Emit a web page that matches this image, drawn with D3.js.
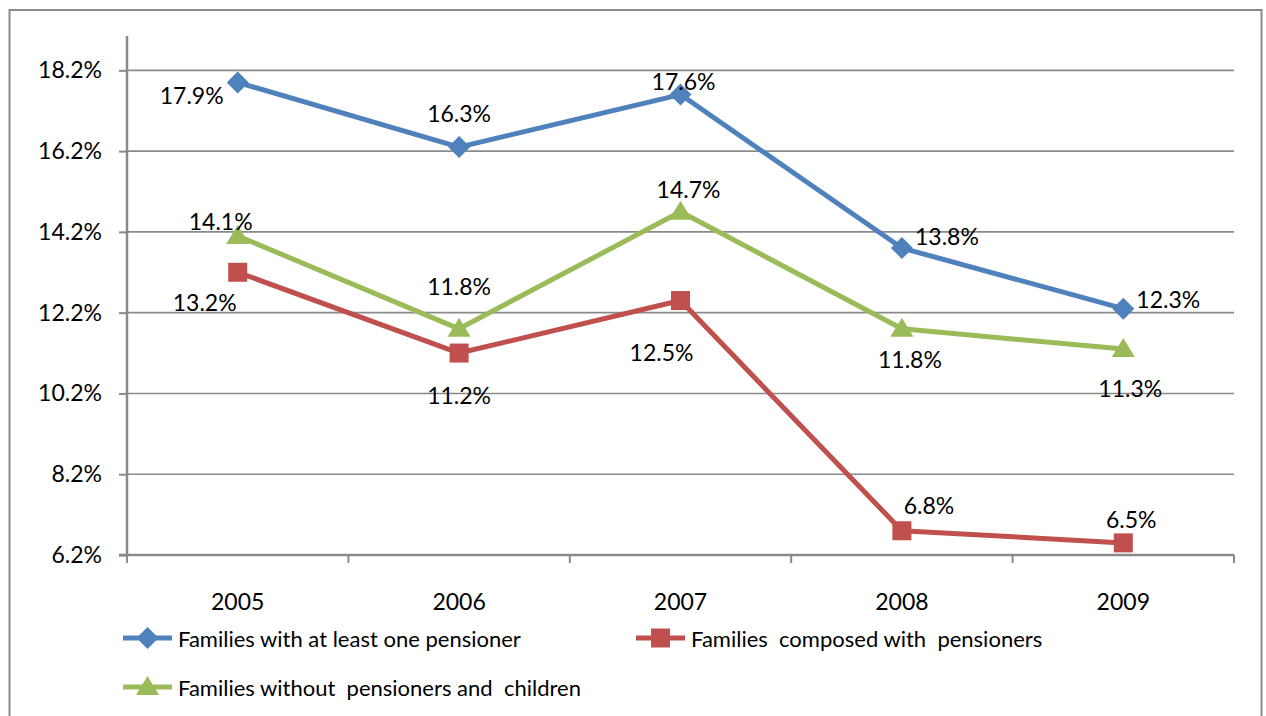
<!DOCTYPE html>
<html>
<head>
<meta charset="utf-8">
<script src="https://cdn.jsdelivr.net/npm/d3@7"></script>
<style>
  html, body { margin: 0; padding: 0; background: #ffffff; }
  svg { display: block; }
  text { font-family: Lato, "Open Sans", sans-serif; fill: #000; }
</style>
</head>
<body>
<svg id="chart" width="1266" height="716"></svg>
<script>
// Years on the category axis
const years = ["2005", "2006", "2007", "2008", "2009"];

// Share of families (%) for each group
const atLeastOnePensioner = [17.9, 16.3, 17.6, 13.8, 12.3];
const composedWithPensioners = [13.2, 11.2, 12.5, 6.8, 6.5];
const withoutPensionersChildren = [14.1, 11.8, 14.7, 11.8, 11.3];

// Value axis ticks
const yTicks = [6.2, 8.2, 10.2, 12.2, 14.2, 16.2, 18.2];

// Series names as shown in the legend
const seriesNames = [
  "Families with at least one pensioner",
  "Families  composed with  pensioners",
  "Families without  pensioners and  children"
];

// Data-label nudges (dx, dy) relative to each point
const labelNudgeBlue  = [[-46, 13], [0, -34], [3, -14], [45, -12], [45, -10]];
const labelNudgeRed   = [[-33, 30], [0, 42], [-19, 51], [27, -26], [8, -24]];
const labelNudgeGreen = [[-17, -15], [0, -43], [8, -23], [8, 30], [7, 39]];

const series = [
  { name: seriesNames[0], values: atLeastOnePensioner, color: "#4F81BD", marker: "diamond", nudge: labelNudgeBlue },
  { name: seriesNames[1], values: composedWithPensioners, color: "#C0504D", marker: "square", nudge: labelNudgeRed },
  { name: seriesNames[2], values: withoutPensionersChildren, color: "#9BBB59", marker: "triangle", nudge: labelNudgeGreen }
];

const svg = d3.select("#chart");
const gridColor = "#8a8a8a";
const fontSize = 23;
const legendFontSize = 22;

// Outer chart frame
svg.append("rect")
  .attr("x", 9.5).attr("y", 10)
  .attr("width", 1252).attr("height", 720)
  .attr("fill", "none")
  .attr("stroke", gridColor)
  .attr("stroke-width", 2);

const plot = { left: 127, right: 1234, top: 36, bottom: 555 };

const x = d3.scaleBand()
  .domain(years)
  .range([plot.left, plot.right])
  .padding(0);

const y = d3.scaleLinear()
  .domain([6.2, 19.05])
  .range([plot.bottom, plot.top]);

// Horizontal gridlines
svg.append("g")
  .selectAll("line")
  .data(yTicks.slice(1))
  .join("line")
  .attr("x1", plot.left).attr("x2", plot.right)
  .attr("y1", d => y(d)).attr("y2", d => y(d))
  .attr("stroke", gridColor)
  .attr("stroke-width", 1.6);

// Y axis
const yAxis = svg.append("g")
  .attr("transform", `translate(${plot.left},0)`)
  .call(d3.axisLeft(y)
    .tickValues(yTicks)
    .tickSize(8)
    .tickPadding(17)
    .tickFormat(d => d3.format(".1f")(d) + "%"));
yAxis.select(".domain")
  .attr("d", `M0,${plot.top}V${plot.bottom}`)
  .attr("stroke", gridColor).attr("stroke-width", 2.5);
yAxis.selectAll(".tick line").attr("stroke", gridColor).attr("stroke-width", 2);
yAxis.selectAll(".tick text")
  .attr("font-size", fontSize)
  .attr("font-family", "Lato, 'Open Sans', sans-serif")
  .attr("fill", "#000");

// X axis: ticks sit on category boundaries
const boundaries = years.map(d => x(d)).concat([x(years[years.length - 1]) + x.bandwidth()]);
const xAxis = svg.append("g")
  .attr("transform", `translate(0,${plot.bottom})`);
xAxis.append("line")
  .attr("x1", plot.left - 8).attr("x2", plot.right)
  .attr("stroke", gridColor).attr("stroke-width", 2.5);
xAxis.selectAll("line.tick")
  .data(boundaries)
  .join("line")
  .attr("class", "tick")
  .attr("x1", d => d).attr("x2", d => d)
  .attr("y1", 0).attr("y2", 8)
  .attr("stroke", gridColor).attr("stroke-width", 2);
xAxis.selectAll("text")
  .data(years)
  .join("text")
  .attr("x", d => x(d) + x.bandwidth() / 2)
  .attr("y", 46)
  .attr("text-anchor", "middle")
  .attr("dominant-baseline", "central")
  .attr("font-size", fontSize)
  .text(d => d);

// Marker shapes
function markerPath(type) {
  if (type === "diamond") return "M0,-11L11,0L0,11L-11,0Z";
  if (type === "square") return "M-9.5,-9.5H9.5V9.5H-9.5Z";
  return "M0,-11L11.5,8L-11.5,8Z";
}

const cx = d => x(d) + x.bandwidth() / 2;

const line = d3.line()
  .x((d, i) => cx(years[i]))
  .y(d => y(d));

series.forEach(s => {
  const g = svg.append("g");
  g.append("path")
    .datum(s.values)
    .attr("d", line)
    .attr("fill", "none")
    .attr("stroke", s.color)
    .attr("stroke-width", 5)
    .attr("stroke-linejoin", "round");
  g.selectAll("path.marker")
    .data(s.values)
    .join("path")
    .attr("class", "marker")
    .attr("d", markerPath(s.marker))
    .attr("transform", (d, i) => `translate(${cx(years[i])},${y(d)})`)
    .attr("fill", s.color);
});

// Data labels
series.forEach(s => {
  svg.append("g")
    .selectAll("text")
    .data(s.values)
    .join("text")
    .attr("x", (d, i) => cx(years[i]) + s.nudge[i][0])
    .attr("y", (d, i) => y(d) + s.nudge[i][1])
    .attr("text-anchor", "middle")
    .attr("dominant-baseline", "central")
    .attr("font-size", fontSize)
    .text(d => d3.format(".1f")(d) + "%");
});

// Legend
const legendItems = [
  { s: series[0], lx: 123, ly: 638 },
  { s: series[1], lx: 636, ly: 638 },
  { s: series[2], lx: 123, ly: 687 }
];
const legend = svg.append("g");
legendItems.forEach(item => {
  const g = legend.append("g").attr("transform", `translate(${item.lx},${item.ly})`);
  g.append("line")
    .attr("x1", 0).attr("x2", 49)
    .attr("stroke", item.s.color).attr("stroke-width", 5);
  g.append("path")
    .attr("d", markerPath(item.s.marker))
    .attr("transform", "translate(24.5,0)")
    .attr("fill", item.s.color);
  g.append("text")
    .attr("x", 55)
    .attr("y", 0)
    .attr("dominant-baseline", "central")
    .attr("font-size", legendFontSize)
    .attr("xml:space", "preserve")
    .style("white-space", "pre")
    .text(item.s.name);
});
</script>
</body>
</html>
